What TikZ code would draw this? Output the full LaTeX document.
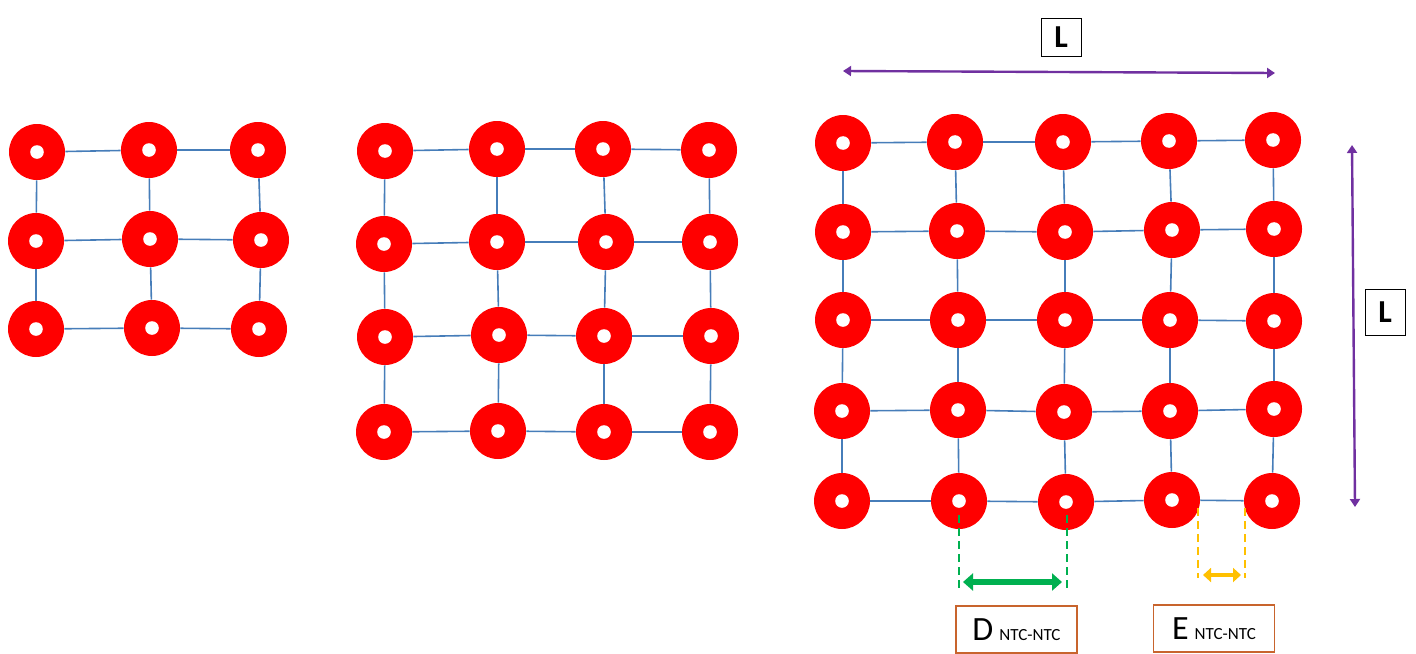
\documentclass[tikz,border=0pt]{standalone}
\usepackage{fontspec}
\setmainfont{Carlito}
\usetikzlibrary{arrows.meta}
\definecolor{ntcred}{RGB}{255,0,0}
\definecolor{wire}{RGB}{70,125,185}
\definecolor{purp}{RGB}{112,48,160}
\definecolor{grn}{RGB}{0,176,80}
\definecolor{yel}{RGB}{255,192,0}
\definecolor{boxor}{RGB}{200,100,45}
\tikzset{
  ntc/.style={circle, fill=ntcred, draw=none, minimum size=28pt, inner sep=0pt,
    path picture={\fill[white] (path picture bounding box.center) circle (3.4pt);}},
  wirel/.style={draw=wire, line width=0.8pt},
  dimarrow/.style={draw=purp, line width=1.2pt, {Triangle[length=4pt,width=5pt]}-{Triangle[length=4pt,width=5pt]}},
  lbox/.style={draw=black, line width=0.5pt, font=\bfseries\fontsize{16}{18}\selectfont, minimum width=20pt, minimum height=19pt, inner sep=0pt},
  labbox/.style={draw=boxor, line width=0.7pt, minimum width=60.5pt, minimum height=23.5pt, inner sep=0pt},
  gdash/.style={draw=grn, line width=1.3pt, dash pattern=on 4pt off 2.5pt},
  ydash/.style={draw=yel, line width=1.3pt, dash pattern=on 4pt off 2.5pt},
}
\newcommand{\sublab}[1]{{\fontsize{17}{19}\selectfont #1}\hspace{3pt}{\fontsize{8.5}{10}\selectfont NTC-NTC}}
\begin{document}
\begin{tikzpicture}[x=0.5pt,y=-0.5pt]
\useasboundingbox (0,0) rectangle (1416,653);
% ---------- grid 1 (3x3)
\node[ntc] (a11) at (37,152) {};
\node[ntc] (a12) at (149,150) {};
\node[ntc] (a13) at (258,150) {};
\node[ntc] (a21) at (36,241) {};
\node[ntc] (a22) at (150,239) {};
\node[ntc] (a23) at (261,240) {};
\node[ntc] (a31) at (36,329) {};
\node[ntc] (a32) at (152,328) {};
\node[ntc] (a33) at (259,329) {};
\foreach \r in {1,2,3}{
  \draw[wirel] (a\r1) -- (a\r2); \draw[wirel] (a\r2) -- (a\r3);}
\foreach \c in {1,2,3}{
  \draw[wirel] (a1\c) -- (a2\c); \draw[wirel] (a2\c) -- (a3\c);}
% ---------- grid 2 (4x4)
\node[ntc] (b11) at (385,151) {};
\node[ntc] (b12) at (497,149) {};
\node[ntc] (b13) at (603,149) {};
\node[ntc] (b14) at (709,150) {};
\node[ntc] (b21) at (384,244) {};
\node[ntc] (b22) at (497,242) {};
\node[ntc] (b23) at (606,242) {};
\node[ntc] (b24) at (710,242) {};
\node[ntc] (b31) at (385,337) {};
\node[ntc] (b32) at (499,335) {};
\node[ntc] (b33) at (604,336) {};
\node[ntc] (b34) at (711,336) {};
\node[ntc] (b41) at (384,432) {};
\node[ntc] (b42) at (498,431) {};
\node[ntc] (b43) at (604,432) {};
\node[ntc] (b44) at (710,432) {};
\foreach \r in {1,2,3,4}{
  \draw[wirel] (b\r1) -- (b\r2); \draw[wirel] (b\r2) -- (b\r3); \draw[wirel] (b\r3) -- (b\r4);}
\foreach \c in {1,2,3,4}{
  \draw[wirel] (b1\c) -- (b2\c); \draw[wirel] (b2\c) -- (b3\c); \draw[wirel] (b3\c) -- (b4\c);}
% ---------- grid 3 (5x5)
\node[ntc] (c11) at (843,143) {};
\node[ntc] (c12) at (955,142) {};
\node[ntc] (c13) at (1063,142) {};
\node[ntc] (c14) at (1169,141) {};
\node[ntc] (c15) at (1273,140) {};
\node[ntc] (c21) at (843,232) {};
\node[ntc] (c22) at (957,231) {};
\node[ntc] (c23) at (1065,232) {};
\node[ntc] (c24) at (1172,230) {};
\node[ntc] (c25) at (1274,229) {};
\node[ntc] (c31) at (843,320) {};
\node[ntc] (c32) at (958,320) {};
\node[ntc] (c33) at (1065,320) {};
\node[ntc] (c34) at (1170,320) {};
\node[ntc] (c35) at (1274,321) {};
\node[ntc] (c41) at (842,411) {};
\node[ntc] (c42) at (958,410) {};
\node[ntc] (c43) at (1064,412) {};
\node[ntc] (c44) at (1170,411) {};
\node[ntc] (c45) at (1274,409) {};
\node[ntc] (c51) at (842,501) {};
\node[ntc] (c52) at (959,501) {};
\node[ntc] (c53) at (1066,502) {};
\node[ntc] (c54) at (1172,500) {};
\node[ntc] (c55) at (1272,501) {};
\foreach \r in {1,2,3,4,5}{
  \draw[wirel] (c\r1) -- (c\r2); \draw[wirel] (c\r2) -- (c\r3);
  \draw[wirel] (c\r3) -- (c\r4); \draw[wirel] (c\r4) -- (c\r5);}
\foreach \c in {1,2,3,4,5}{
  \draw[wirel] (c1\c) -- (c2\c); \draw[wirel] (c2\c) -- (c3\c);
  \draw[wirel] (c3\c) -- (c4\c); \draw[wirel] (c4\c) -- (c5\c);}
% ---------- dimension L
\coordinate (ht1) at (843,71);
\coordinate (ht2) at (1275,73);
\draw[dimarrow] (ht1) -- (ht2);
\node[lbox] (Ltop) at (1061,37) {L};
\coordinate (vt1) at (1352,145);
\coordinate (vt2) at (1355,507);
\draw[dimarrow] (vt1) -- (vt2);
\node[lbox, minimum height=23pt] (Lside) at (1385,312) {L};
% ---------- D spacing
\coordinate (gd1a) at (959,515); \coordinate (gd1b) at (959,588);
\coordinate (gd2a) at (1067,515); \coordinate (gd2b) at (1067,588);
\draw[gdash] (gd1a) -- (gd1b);
\draw[gdash] (gd2a) -- (gd2b);
\coordinate (ga1) at (963,582); \coordinate (ga2) at (1062,582);
\draw[draw=grn, line width=3pt, {Triangle[length=5pt,width=8.5pt]}-{Triangle[length=5pt,width=8.5pt]}] (ga1) -- (ga2);
% ---------- E spacing
\coordinate (yd1a) at (1198,508); \coordinate (yd1b) at (1198,578);
\coordinate (yd2a) at (1245,508); \coordinate (yd2b) at (1245,578);
\draw[ydash] (yd1a) -- (yd1b);
\draw[ydash] (yd2a) -- (yd2b);
\coordinate (ya1) at (1203,575); \coordinate (ya2) at (1241,575);
\draw[draw=yel, line width=2.2pt, {Triangle[length=4pt,width=7pt]}-{Triangle[length=4pt,width=7pt]}] (ya1) -- (ya2);
% ---------- labels
\node[labbox] (Dlab) at (1016.5,629.5) {\sublab{D}};
\node[labbox] (Elab) at (1214,628.5) {\sublab{E}};
\end{tikzpicture}
\end{document}
